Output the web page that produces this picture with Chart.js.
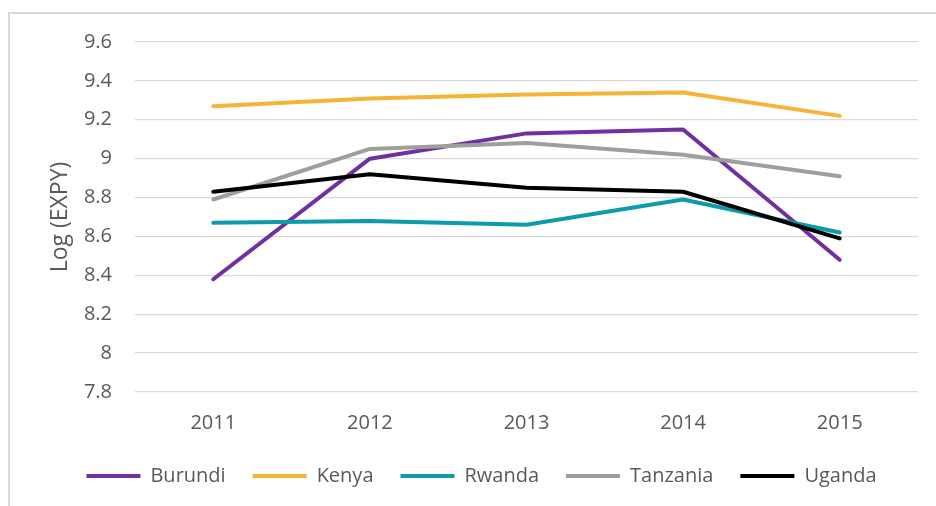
<!DOCTYPE html>
<html><head><meta charset="utf-8">
<script src="https://cdn.jsdelivr.net/npm/chart.js@4/dist/chart.umd.min.js"></script>
<style>
html,body{margin:0;padding:0;background:#fff;}
#wrap{position:relative;width:936px;height:506px;overflow:hidden;}
#frame{position:absolute;left:8px;top:12px;width:1000px;height:600px;border:2px solid #d9d9d9;box-sizing:border-box;}
canvas{position:absolute;left:0;top:0;}
</style></head><body>
<div id="wrap"><div id="frame"></div><canvas id="c" width="936" height="506"></canvas></div>
<script>
const years = ['2011','2012','2013','2014','2015'];
const burundi  = [8.38, 9.00, 9.13, 9.15, 8.48];
const kenya    = [9.27, 9.31, 9.33, 9.34, 9.22];
const rwanda   = [8.67, 8.68, 8.66, 8.79, 8.62];
const tanzania = [8.79, 9.05, 9.08, 9.02, 8.91];
const uganda   = [8.83, 8.92, 8.85, 8.83, 8.59];
const yMin = 7.8, yMax = 9.6, yStep = 0.2;
const yTitle = 'Log (EXPY)';

const font = "'Open Sans', 'DejaVu Sans', sans-serif";
const txt = '#595959';

function ds(label, data, color, order) {
  return { label, data, borderColor: color, backgroundColor: color, borderWidth: 4,
    pointRadius: 0, pointHoverRadius: 0, tension: 0, borderCapStyle: 'round',
    borderJoinStyle: 'round', pointStyle: 'line', order, fill: false };
}

new Chart(document.getElementById('c'), {
  type: 'line',
  data: {
    labels: years,
    datasets: [
      ds('Burundi', burundi, '#7030A0', 4),
      ds('Kenya', kenya, '#F4B537', 3),
      ds('Rwanda', rwanda, '#0C9BA8', 2),
      ds('Tanzania', tanzania, '#9E9E9E', 1),
      ds('Uganda', uganda, '#000000', 0)
    ]
  },
  options: {
    responsive: false,
    animation: false,
    devicePixelRatio: 1,
    layout: { padding: { left: 45, right: 18, top: 42, bottom: 10 } },
    plugins: {
      legend: {
        position: 'bottom',
        labels: {
          usePointStyle: true, pointStyleWidth: 54, boxHeight: 4,
          padding: 27, color: txt, font: { family: font, size: 20 },
          sort: (a, b) => a.datasetIndex - b.datasetIndex
        }
      },
      tooltip: { enabled: false }
    },
    scales: {
      x: {
        offset: true,
        grid: { display: false, drawTicks: false },
        border: { display: false },
        ticks: { color: txt, font: { family: font, size: 20 }, padding: 19, maxRotation: 0 },
        afterFit: s => { s.height = 47; }
      },
      y: {
        min: yMin, max: yMax,
        grid: { color: '#d9d9d9', lineWidth: 1.3, drawTicks: false },
        border: { display: false },
        ticks: { stepSize: yStep, color: txt, font: { family: font, size: 20 }, padding: 23,
          callback: v => String(Number(v.toFixed(1))) },
        title: { display: true, text: yTitle, color: txt, font: { family: font, size: 23 }, padding: { top: 2, bottom: 0 } },
        afterFit: s => { s.width = 90; }
      }
    }
  }
});
</script>
</body></html>
